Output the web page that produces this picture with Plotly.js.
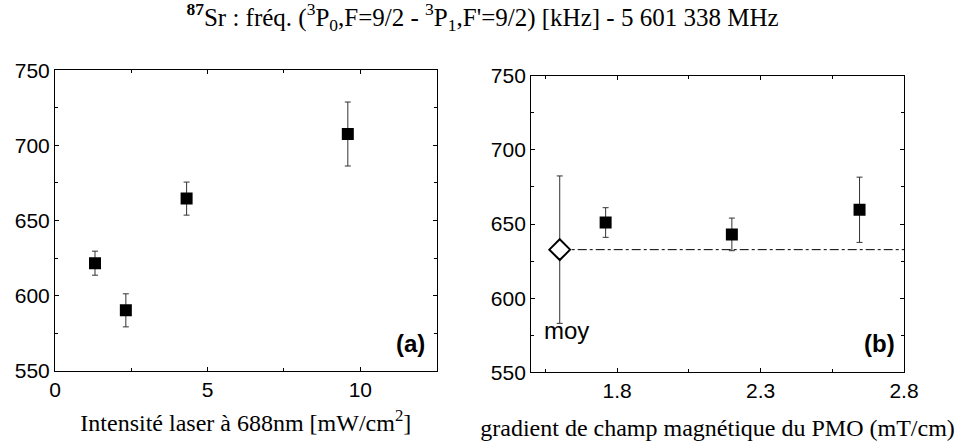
<!DOCTYPE html>
<html>
<head>
<meta charset="utf-8">
<script src="https://cdn.plot.ly/plotly-3.0.1.min.js"></script>
<style>html,body{margin:0;padding:0;background:#fff;}#chart{width:965px;height:448px;}</style>
</head>
<body>
<div id="chart"></div>
<script>
// Panel (a): frequency vs laser intensity
const intensite = [1.31, 2.32, 4.31, 9.59];
const freqA = [621.6, 590.2, 664.6, 707.6];
const errA = [8, 11, 11, 21.3];

// Panel (b): frequency vs MOT magnetic gradient
const gradient = [1.76, 2.20, 2.645];
const freqB = [651.0, 643.0, 659.6];
const errB = [10, 11, 22];

// Mean ("moy") point and its horizontal reference line
const moyX = [1.6];
const moyY = [632.7];
const moyErr = [49.7];
const moyLineX = [1.6, 2.8];
const moyLineY = [632.7, 632.7];

const yTicks = [550, 600, 650, 700, 750];
const xTicksA = [0, 5, 10];
const xTicksB = [1.8, 2.3, 2.8];

const errStyle = {type: 'data', visible: true, thickness: 1, width: 3, color: '#333'};

const traces = [
  {x: intensite, y: freqA, xaxis: 'x', yaxis: 'y', mode: 'markers', type: 'scatter',
   marker: {symbol: 'square', size: 12, color: '#000'},
   error_y: Object.assign({array: errA}, errStyle), showlegend: false},
  {x: moyLineX, y: moyLineY, xaxis: 'x2', yaxis: 'y2', mode: 'lines', type: 'scatter',
   line: {color: '#000', width: 1, dash: 'dashdot'}, showlegend: false},
  {x: gradient, y: freqB, xaxis: 'x2', yaxis: 'y2', mode: 'markers', type: 'scatter',
   marker: {symbol: 'square', size: 12, color: '#000'},
   error_y: Object.assign({array: errB}, errStyle), showlegend: false},
  {x: moyX, y: moyY, xaxis: 'x2', yaxis: 'y2', mode: 'markers', type: 'scatter',
   marker: {symbol: 'diamond', size: 16, color: '#fff', line: {color: '#000', width: 2}},
   error_y: Object.assign({array: moyErr}, errStyle), showlegend: false}
];

const tickFont = {family: 'Liberation Sans, Arial, sans-serif', size: 21, color: '#000'};
const titleFont = {family: 'Liberation Serif, Times New Roman, serif', size: 25, color: '#000'};
const axTitleFont = {family: 'Liberation Serif, Times New Roman, serif', size: 24, color: '#000'};

function axisBase() {
  return {
    showgrid: false, zeroline: false, showline: true, linecolor: '#000', linewidth: 1,
    mirror: 'allticks', ticks: 'inside', ticklen: 4, tickwidth: 1, tickcolor: '#000',
    tickfont: tickFont, fixedrange: true
  };
}

const layout = {
  width: 965, height: 448,
  margin: {l: 0, r: 0, t: 0, b: 0},
  paper_bgcolor: '#fff', plot_bgcolor: '#fff',
  title: {
    text: '<b><sup>87</sup></b>Sr : fréq. (<sup>3</sup>P<sub>0</sub>,F=9/2 - <sup>3</sup>P<sub>1</sub>,F\'=9/2) [kHz] - 5 601 338 MHz',
    font: titleFont, x: 0.5, xanchor: 'center', y: 0.962, yanchor: 'middle'
  },
  xaxis: Object.assign(axisBase(), {
    domain: [0.057, 0.4525], range: [0, 12.5], tickvals: xTicksA, ticktext: xTicksA.map(String),
    minor: {dtick: 2.5, tick0: 0, ticks: 'inside', ticklen: 3, tickcolor: '#000'},
    anchor: 'y',
    title: {text: 'Intensité laser à 688nm [mW/cm<sup>2</sup>]', font: axTitleFont, standoff: 14}
  }),
  yaxis: Object.assign(axisBase(), {
    domain: [0.1725, 0.843], range: [550, 750], tickvals: yTicks, ticktext: yTicks.map(String),
    minor: {dtick: 25, tick0: 550, ticks: 'inside', ticklen: 3, tickcolor: '#000'},
    anchor: 'x'
  }),
  xaxis2: Object.assign(axisBase(), {
    domain: [0.5503, 0.9368], range: [1.5, 2.8], tickvals: xTicksB, ticktext: xTicksB.map(v => v.toFixed(1)),
    minor: {dtick: 0.25, tick0: 1.55, ticks: 'inside', ticklen: 3, tickcolor: '#000'},
    anchor: 'y2', linecolor: '#000',
    title: {text: 'gradient de champ magnétique du PMO (mT/cm)', font: axTitleFont, standoff: 17}
  }),
  yaxis2: Object.assign(axisBase(), {
    domain: [0.169, 0.831], range: [550, 750], tickvals: yTicks, ticktext: yTicks.map(String),
    minor: {dtick: 25, tick0: 550, ticks: 'inside', ticklen: 3, tickcolor: '#000'},
    anchor: 'x2'
  }),
  annotations: [
    {text: '<b>(a)</b>', xref: 'x domain', yref: 'y domain', x: 0.975, y: 0.04,
     xanchor: 'right', yanchor: 'bottom', showarrow: false,
     font: {family: 'Liberation Sans, Arial, sans-serif', size: 24, color: '#000'}},
    {text: '<b>(b)</b>', xref: 'x2 domain', yref: 'y2 domain', x: 0.982, y: 0.045,
     xanchor: 'right', yanchor: 'bottom', showarrow: false,
     font: {family: 'Liberation Sans, Arial, sans-serif', size: 24, color: '#000'}},
    {text: 'moy', xref: 'x2', yref: 'y2', x: moyX[0], y: 578, xshift: 7,
     xanchor: 'center', yanchor: 'middle', showarrow: false,
     font: {family: 'Liberation Sans, Arial, sans-serif', size: 24, color: '#000'}}
  ]
};

Plotly.newPlot('chart', traces, layout, {displayModeBar: false, staticPlot: true});
</script>
</body>
</html>
